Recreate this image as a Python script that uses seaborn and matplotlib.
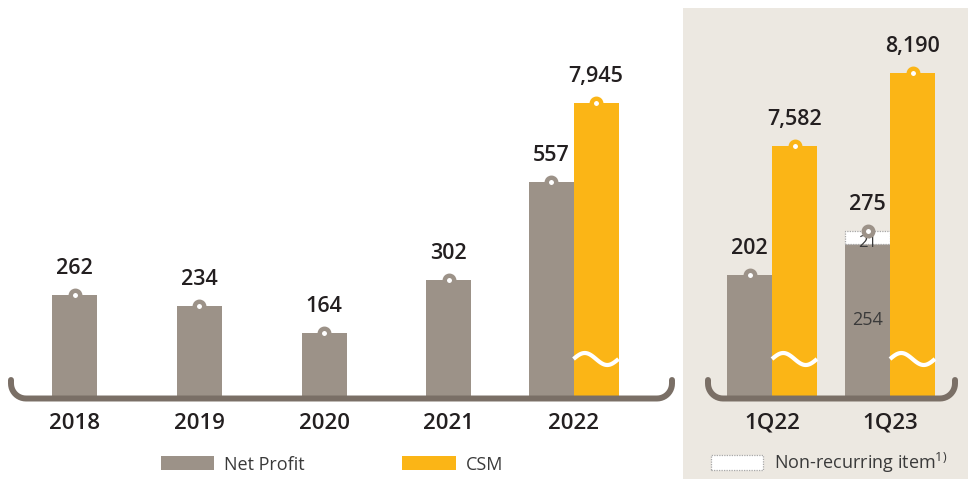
import numpy as np
import pandas as pd
import matplotlib
matplotlib.use("Agg")
import matplotlib.pyplot as plt
import matplotlib.transforms as mtransforms
from matplotlib.patches import Patch, PathPatch, Rectangle
from matplotlib.path import Path
import seaborn as sns

# ---- data -------------------------------------------------------------
years = ["2018", "2019", "2020", "2021", "2022"]
net_profit = [262, 234, 164, 302, 557]
csm_year = "2022"
csm_annual = 7945

quarters = ["1Q22", "1Q23"]
np_recurring = [202, 254]
np_non_recurring = [0, 21]
csm_quarter = [7582, 8190]

# ---- style ------------------------------------------------------------
sns.set_theme(style="white")
plt.rcParams["font.family"] = ["Open Sans", "DejaVu Sans"]

NP_COLOR = "#9c9288"
CSM_COLOR = "#fbb516"
BRACKET_COLOR = "#7a6f66"
PANEL_BG = "#ece8e1"
TEXT_DARK = "#231f20"
TEXT_MID = "#3a3a3a"

W, H = 968, 479
fig = plt.figure(figsize=(W / 100, H / 100), dpi=100)
fig.patch.set_facecolor("white")


def px_rect(x0, y_top, x1, y_bot):
    """pixel box (y from top) -> figure fraction rect"""
    return [x0 / W, 1 - y_bot / H, (x1 - x0) / W, (y_bot - y_top) / H]


# shaded quarterly panel, kept behind every axes
fig.patches.append(Rectangle((683 / W, 0), 1 - 683 / W, 1 - 8 / H,
                             transform=fig.transFigure, facecolor=PANEL_BG,
                             edgecolor="none", zorder=-10))

BASE_PX = 396
TOP_PX = 18
AX_H = BASE_PX - TOP_PX

# px per unit scales
NP_SCALE_L = 0.385
NP_SCALE_R = 0.60
CSM_SCALE = 0.12
CSM_FLOOR = 5500

ax = fig.add_axes(px_rect(0, TOP_PX, 683, BASE_PX))
axr = fig.add_axes(px_rect(683, TOP_PX, 968, BASE_PX))

BW_L = 45 / 124.75
BW_R = 45 / 118


def add_marker(a, x, y, color, label, dy=19, size=15.5):
    a.plot([x], [y], marker="o", ms=6.8, mew=3.2, mfc="white", mec=color,
           clip_on=False, zorder=6)
    a.annotate(label, (x, y), xytext=(0, dy), textcoords="offset points",
               ha="center", va="center", fontsize=size, color=TEXT_DARK,
               fontweight="semibold", zorder=7, annotation_clip=False)


def add_wave(a, xc, w):
    tr = mtransforms.blended_transform_factory(a.transData, a.transAxes)
    t = np.linspace(0, 1, 120)
    xs = xc - w / 2 + t * w
    ys = (BASE_PX - 359) / AX_H + (6 / AX_H) * np.sin(2 * np.pi * t)
    a.plot(xs, ys, color="white", lw=3.0, transform=tr, zorder=5,
           solid_capstyle="butt", clip_on=False)


# ---- left panel: annual --------------------------------------------------
df_l = pd.DataFrame({"year": years, "net_profit": net_profit})
sns.barplot(data=df_l, x="year", y="net_profit", order=years, color=NP_COLOR,
            saturation=1, width=BW_L, linewidth=0, ax=ax, zorder=2)
i_csm = years.index(csm_year)
# the CSM year holds a pair: shift its net profit bar to the left half
ax.patches[i_csm].set_x(i_csm - BW_L)

ax.set_xlim(-74.5 / 124.75, (683 - 74.5) / 124.75)
ax.set_ylim(0, AX_H / NP_SCALE_L)

axc = ax.twinx()
axc.bar([i_csm + BW_L / 2], [csm_annual], width=BW_L, color=CSM_COLOR,
        linewidth=0, zorder=2)
axc.set_ylim(CSM_FLOOR, CSM_FLOOR + AX_H / CSM_SCALE)
axc.set_xlim(ax.get_xlim())

for i, v in enumerate(net_profit):
    xc = i - BW_L / 2 if i == i_csm else i
    add_marker(ax, xc, v, NP_COLOR, f"{v:,}")
add_marker(axc, i_csm + BW_L / 2, csm_annual, CSM_COLOR, f"{csm_annual:,}")
add_wave(axc, i_csm + BW_L / 2, BW_L)

# ---- right panel: quarterly ---------------------------------------------
df_r = pd.DataFrame({"quarter": quarters, "recurring": np_recurring})
sns.barplot(data=df_r, x="quarter", y="recurring", order=quarters,
            color=NP_COLOR, saturation=1, width=BW_R, linewidth=0, ax=axr,
            zorder=2)
for i, p in enumerate(axr.patches[:len(quarters)]):
    p.set_x(i - BW_R)

axr.set_xlim(-89 / 118, (968 - 772) / 118)
axr.set_ylim(0, AX_H / NP_SCALE_R)

for i, (rec, extra) in enumerate(zip(np_recurring, np_non_recurring)):
    if extra > 0:
        axr.bar([i - BW_R / 2], [extra], bottom=[rec], width=BW_R,
                color="white", edgecolor="#a8a8a8", linestyle=(0, (1, 1)),
                linewidth=0.9, zorder=3)
        axr.text(i - BW_R / 2, rec + extra * 0.05, f"{extra}", ha="center",
                 va="center", fontsize=12, color=TEXT_MID, zorder=4)
        axr.text(i - BW_R / 2, rec / 2, f"{rec}", ha="center",
                 va="center", fontsize=13, color=TEXT_MID, zorder=4)
    add_marker(axr, i - BW_R / 2, rec + extra, NP_COLOR, f"{rec + extra:,}")

axrc = axr.twinx()
axrc.bar(np.arange(len(quarters)) + BW_R / 2, csm_quarter, width=BW_R,
         color=CSM_COLOR, linewidth=0, zorder=2)
axrc.set_ylim(CSM_FLOOR, CSM_FLOOR + AX_H / CSM_SCALE)
axrc.set_xlim(axr.get_xlim())
for i, v in enumerate(csm_quarter):
    add_marker(axrc, i + BW_R / 2, v, CSM_COLOR, f"{v:,}")
    add_wave(axrc, i + BW_R / 2, BW_R)

# ---- axes cosmetics -----------------------------------------------------
for a in (ax, axc, axr, axrc):
    a.patch.set_alpha(0)
    for s in a.spines.values():
        s.set_visible(False)
    a.set_yticks([])
    a.set_ylabel("")
    a.set_xlabel("")
    a.grid(False)

for a, labels in ((ax, years), (axr, quarters)):
    a.set_xticks(range(len(labels)))
    a.set_xticklabels(labels, fontsize=16, fontweight="semibold",
                      color=TEXT_DARK)
    a.tick_params(axis="x", length=0, pad=12)
for a in (axc, axrc):
    a.tick_params(axis="x", length=0, labelbottom=False)


# ---- brackets under each panel -----------------------------------------
def bracket(x0, x1, y_top=380, y_bot=398.5, r=15):
    pts = [(x0, y_top), (x0, y_bot - r)]
    for ang in np.linspace(np.pi, 1.5 * np.pi, 12)[1:]:
        pts.append((x0 + r + r * np.cos(ang), y_bot - r - r * np.sin(ang)))
    pts.append((x1 - r, y_bot))
    for ang in np.linspace(1.5 * np.pi, 2 * np.pi, 12)[1:]:
        pts.append((x1 - r + r * np.cos(ang), y_bot - r - r * np.sin(ang)))
    pts.append((x1, y_top))
    verts = [(x / W, 1 - y / H) for x, y in pts]
    path = Path(verts)
    fig.patches.append(PathPatch(path, transform=fig.transFigure,
                                 facecolor="none", edgecolor=BRACKET_COLOR,
                                 lw=4.3, capstyle="round", joinstyle="round",
                                 zorder=10))


bracket(11, 672)
bracket(708, 955)

# ---- legends ------------------------------------------------------------
h_main = [Patch(facecolor=NP_COLOR, edgecolor="none", label="Net Profit"),
          Patch(facecolor=CSM_COLOR, edgecolor="none", label="CSM")]
fig.legend(handles=h_main, loc="center left",
           bbox_to_anchor=(161 / W, 1 - 464.5 / H), ncol=2, frameon=False,
           fontsize=13, handlelength=2.95, handleheight=0.85,
           handletextpad=0.55, columnspacing=5.4, borderpad=0,
           borderaxespad=0, labelcolor=TEXT_MID)

h_nr = [Patch(facecolor="white", edgecolor="#a8a8a8", linestyle=(0, (1, 1)),
              linewidth=0.9, label=r"Non-recurring item$^{\mathregular{1)}}$")]
fig.legend(handles=h_nr, loc="center left",
           bbox_to_anchor=(711 / W, 1 - 462.5 / H), frameon=False,
           fontsize=13, handlelength=2.9, handleheight=0.95,
           handletextpad=0.6, borderpad=0, borderaxespad=0,
           labelcolor=TEXT_MID)

fig.savefig("out.png", dpi=100, facecolor="white")
